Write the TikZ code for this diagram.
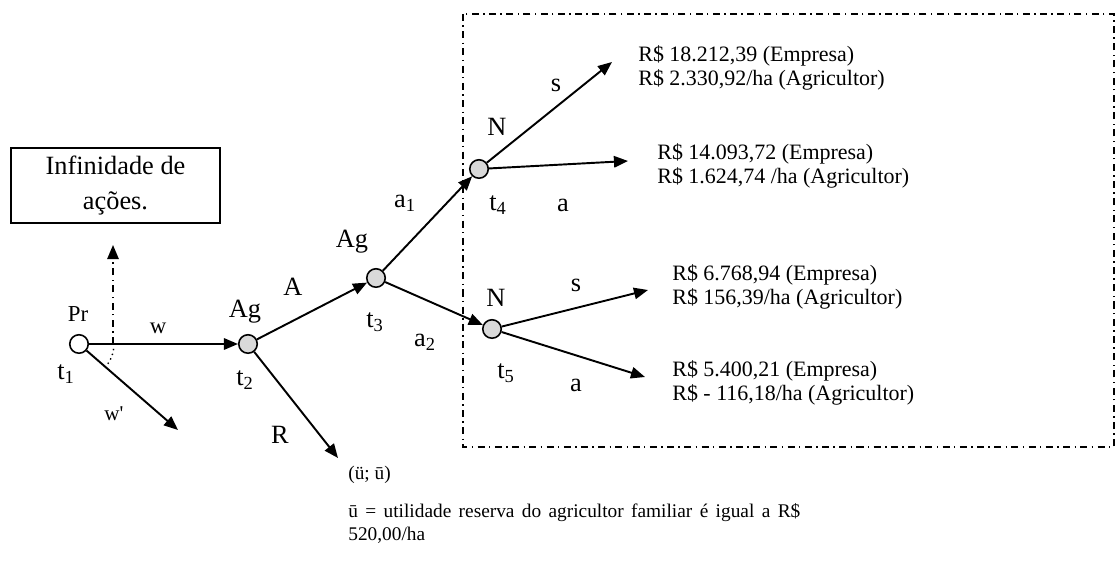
\documentclass[tikz,border=0pt]{standalone}
\usepackage{fontspec}
\setmainfont{Liberation Serif}
\usetikzlibrary{arrows.meta}
\tikzset{
  dec/.style={circle, draw, line width=0.9pt, fill=black!15, minimum size=0.37cm, inner sep=0pt},
  mv/.style={-{Triangle[length=8pt,width=6.5pt]}, line width=1.1pt},
  lbl/.style={font=\fontsize{15}{18}\selectfont, inner sep=0pt},
  sml/.style={font=\fontsize{13}{15}\selectfont, inner sep=0pt},
  pay/.style={font=\fontsize{12.5}{13.8}\selectfont, align=left, anchor=west, inner sep=0pt},
  dshdot/.style={line width=0.9pt, dash pattern=on 4pt off 2.5pt on 0.8pt off 2.5pt},
}
\newcommand{\sub}[1]{\textsubscript{#1}}

\begin{document}
\begin{tikzpicture}[x=0.02cm, y=-0.02cm]
\useasboundingbox (0,0) rectangle (1120,563);
% decision nodes
\node[dec, fill=white] (t1) at (79,344) {};
\node[dec] (t2) at (248,344) {};
\node[dec] (t3) at (376,278) {};
\node[dec] (t4) at (479,169) {};
\node[dec] (t5) at (492,329) {};
% Pr
\node[sml] (pr) at (78,314) {Pr};
\node[lbl] (lt1) at (66,374) {t\sub{1}};
\node[sml] (lw) at (158,328) {w};
\node[sml, font=\fontsize{12}{14}\selectfont] (lwp) at (114,414) {w\textquotesingle};
\node[draw, line width=1pt, minimum width=4.18cm, minimum height=1.5cm, align=center,
  font=\fontsize{15}{19.5}\selectfont] (inf) at (115.5,185.5) {Infinidade de\\ações.};
\coordinate (wp) at (178,430);
\coordinate (vb) at (113,344);
\coordinate (vt) at (113,245);
\draw[mv] (t1) -- (t2);
\draw[mv] (t1) -- (wp);
\draw[mv, dshdot] (vb) -- (vt);
\draw[dotted, line width=0.8pt] ([shift={(8:35)}]t1.center) arc[start angle=8, end angle=42, radius=35];
% Ag t2
\node[lbl] (ag2) at (245,312) {Ag};
\node[lbl] (lt2) at (245,380) {t\sub{2}};
\node[lbl] (la) at (293,287) {A};
\node[lbl] (lr) at (280,435) {R};
\node[sml, anchor=west, font=\fontsize{11}{13}\selectfont] (res) at (348,475) {(ü; ū)};
\coordinate (ru) at (338,458);
\draw[mv] (t2) -- (t3);
\draw[mv] (t2) -- (ru);
% Ag t3
\node[lbl] (ag3) at (352,242) {Ag};
\node[lbl] (lt3) at (375,322) {t\sub{3}};
\node[lbl] (la1) at (405,203) {a\sub{1}};
\node[lbl] (la2) at (425,342) {a\sub{2}};
\draw[mv] (t3) -- (t4);
\draw[mv] (t3) -- (t5);
% N t4
\node[lbl] (n4) at (497,127) {N};
\node[lbl] (lt4) at (498,205) {t\sub{4}};
\node[lbl] (ls4) at (556,85) {s};
\node[lbl] (la4) at (563,205) {a};
\coordinate (s4) at (612,62);
\coordinate (a4) at (628,161);
\draw[mv] (t4) -- (s4);
\draw[mv] (t4) -- (a4);
\node[pay] (p1) at (638,68) {R\$ 18.212,39 (Empresa)\\R\$ 2.330,92/ha (Agricultor)};
\node[pay] (p2) at (657,166) {R\$ 14.093,72 (Empresa)\\R\$ 1.624,74 /ha (Agricultor)};
% N t5
\node[lbl] (n5) at (496,298) {N};
\node[lbl] (lt5) at (506,373) {t\sub{5}};
\node[lbl] (ls5) at (576,285) {s};
\node[lbl] (la5) at (576,385) {a};
\coordinate (s5) at (648,290);
\coordinate (a5) at (645,377);
\draw[mv] (t5) -- (s5);
\draw[mv] (t5) -- (a5);
\node[pay] (p3) at (672,287) {R\$ 6.768,94 (Empresa)\\R\$ 156,39/ha (Agricultor)};
\node[pay] (p4) at (672,383) {R\$ 5.400,21 (Empresa)\\R\$ - 116,18/ha (Agricultor)};
% nature region
\draw[dshdot] (463,14) rectangle (1114,447);
% note
\node[anchor=north west, inner sep=0pt, text width=9.04cm, align=justify,
  font=\fontsize{11}{13}\selectfont] (note) at (348,503)
  {ū = utilidade reserva do agricultor familiar é igual a R\$ 520,00/ha};
\end{tikzpicture}
\end{document}
